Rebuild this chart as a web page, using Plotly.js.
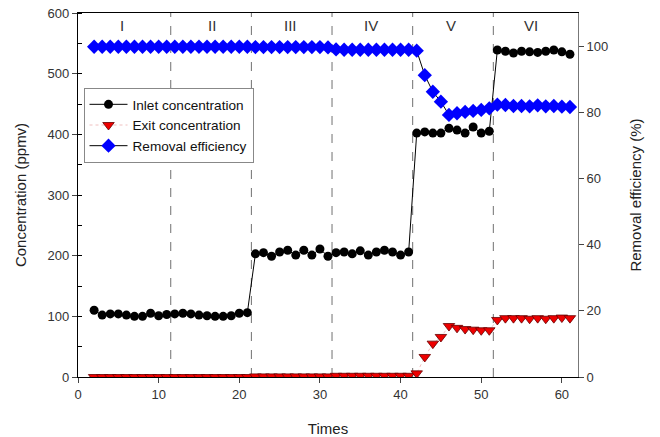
<!DOCTYPE html>
<html>
<head>
<meta charset="utf-8">
<script src="https://cdn.plot.ly/plotly-3.0.1.min.js"></script>
<style>html,body{margin:0;padding:0;background:#fff;}#chart{width:660px;height:437px;}</style>
</head>
<body>
<div id="chart"></div>
<script>
// ---- data ----
const times = [2,3,4,5,6,7,8,9,10,11,
               12,13,14,15,16,17,18,19,20,21,
               22,23,24,25,26,27,28,29,30,31,
               32,33,34,35,36,37,38,39,40,41,
               42,43,44,45,46,47,48,49,50,51,
               52,53,54,55,56,57,58,59,60,61];
const inlet = [110,102,104,104,102,100,100,105,101,103,
               104,105,104,102,101,100,100,101,105,106,
               203,205,199,206,209,201,209,201,211,199,
               205,206,203,208,201,206,209,206,201,206,
               402,404,402,402,410,407,402,412,402,405,
               539,537,534,537,536,535,537,539,536,532];
const exitConc = [0,0,0,0,0,0,0,0,0,0,
                  0,0,0,0,0,0,0,0,0,0,
                  1,1,1,1,1,1,1,1,1,1,
                  2,2,2,2,2,2,2,2,2,2,
                  6,33,55,66,84,81,79,78,77,77,
                  94,97,97,97,96,97,96,97,98,97];
const efficiency = [99.8,99.8,99.8,99.8,99.8,99.8,99.8,99.8,99.8,99.8,
                    99.8,99.8,99.8,99.8,99.8,99.8,99.8,99.8,99.8,99.8,
                    99.7,99.7,99.7,99.7,99.7,99.7,99.7,99.7,99.7,99.6,
                    99.0,98.9,98.9,98.9,98.9,98.9,98.9,98.9,98.9,98.9,
                    98.6,91.2,86.2,83.2,79.2,79.7,80.1,80.4,80.7,81.2,
                    82.3,82.2,81.9,81.9,81.8,82.1,81.8,81.9,81.7,81.6];
const phaseBounds = [11.5, 21.5, 31.5, 41.5, 51.5];
const phaseLabels = ['I','II','III','IV','V','VI'];
const phaseCenters = [5.5, 16.6, 26.4, 36.3, 46.3, 56.2];
const xTicks = [0,10,20,30,40,50,60];
const leftTicks = [0,100,200,300,400,500,600];
const rightTicks = [0,20,40,60,80,100];

const font = 'Arial, "Liberation Sans", sans-serif';

const traces = [
  {x: times, y: inlet, name: 'Inlet concentration', type: 'scatter', mode: 'lines+markers',
   line: {color: '#000', width: 1}, marker: {symbol: 'circle', size: 9, color: '#000'}},
  {x: times, y: exitConc, name: 'Exit concentration', type: 'scatter', mode: 'lines+markers',
   line: {color: 'rgba(230,150,150,0.6)', width: 1, dash: 'dot'},
   marker: {symbol: 'triangle-down', size: 10, color: '#ee0000', line: {color: '#600', width: 0.8}}},
  {x: times, y: efficiency, name: 'Removal efficiency', type: 'scatter', mode: 'lines+markers', yaxis: 'y2',
   line: {color: '#000', width: 1}, marker: {symbol: 'diamond', size: 11, color: '#0000ff'}}
];

const shapes = phaseBounds.map(b => ({
  type: 'line', xref: 'x', yref: 'paper', x0: b, x1: b, y0: 0, y1: 1,
  line: {color: '#707070', width: 1, dash: 'dash'}, layer: 'below'
}));

const annotations = phaseLabels.map((t, i) => ({
  x: phaseCenters[i], y: 0.967, xref: 'x', yref: 'paper', yanchor: 'middle', text: t, showarrow: false,
  font: {family: font, size: 15, color: '#333'}
}));

const layout = {
  width: 660, height: 437,
  margin: {l: 78, r: 82, t: 13, b: 60},
  paper_bgcolor: '#fff', plot_bgcolor: '#fff',
  font: {family: font, size: 13, color: '#222'},
  showlegend: true,
  legend: {x: 0.011, y: 0.794, xanchor: 'left', yanchor: 'top', bgcolor: '#fff',
           bordercolor: '#888', borderwidth: 1, itemwidth: 38,
           font: {family: font, size: 13.6, color: '#111'}, tracegroupgap: 0},
  xaxis: {range: [0, 62], tickvals: xTicks, ticks: 'outside', ticklen: 5,
          showgrid: false, zeroline: false, showline: true, linecolor: '#000', linewidth: 1.2,
          mirror: true, tickfont: {family: font, size: 13, color: '#333'},
          title: {text: 'Times', font: {family: font, size: 15, color: '#222'}, standoff: 22}},
  yaxis: {range: [0, 600], tickvals: leftTicks, ticks: 'outside', ticklen: 5,
          minor: {dtick: 50, ticks: 'inside', ticklen: 4, tickcolor: '#000', showgrid: false},
          showgrid: false, zeroline: false, showline: true, linecolor: '#000', linewidth: 1.2,
          tickfont: {family: font, size: 13, color: '#333'},
          title: {text: 'Concentration (ppmv)', font: {family: font, size: 15, color: '#222'}, standoff: 17}},
  yaxis2: {range: [0, 110], tickvals: rightTicks, ticks: 'outside', ticklen: 5,
           overlaying: 'y', side: 'right', showgrid: false, zeroline: false,
           showline: true, linecolor: '#777', linewidth: 1,
           tickfont: {family: font, size: 13, color: '#333'},
           title: {text: 'Removal efficiency (%)', font: {family: font, size: 15, color: '#222'}, standoff: 23}},
  shapes: shapes,
  annotations: annotations
};

Plotly.newPlot('chart', traces, layout, {displayModeBar: false, staticPlot: true});
</script>
</body>
</html>
